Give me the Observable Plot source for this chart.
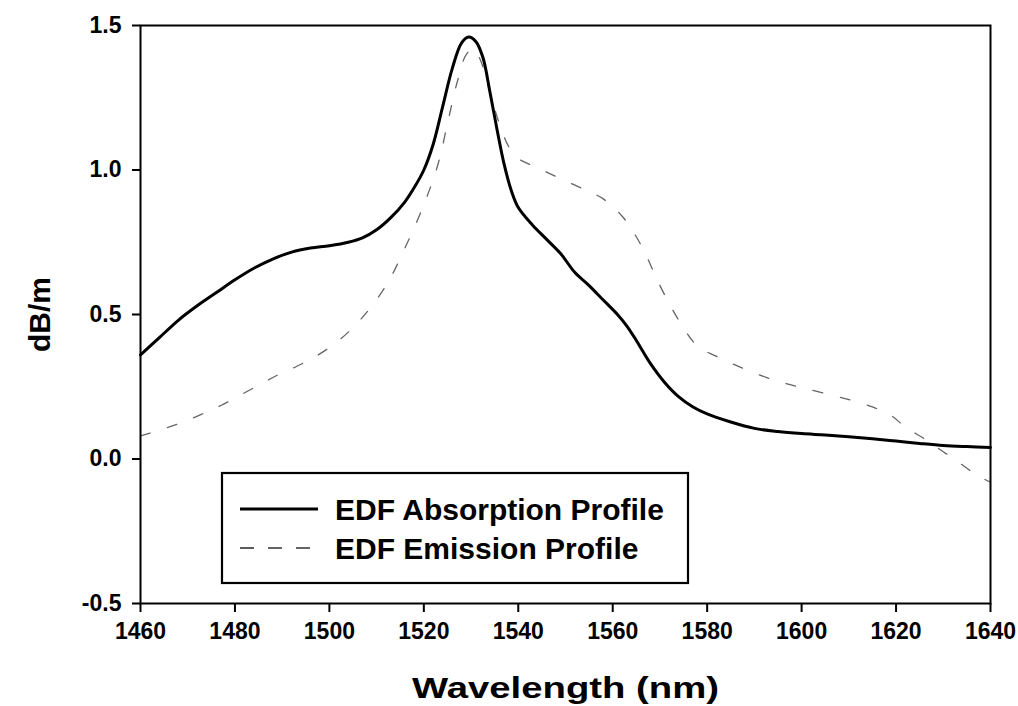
<!DOCTYPE html>
<html>
<head>
<meta charset="utf-8">
<script src="https://cdn.jsdelivr.net/npm/d3@7"></script>
<script src="https://cdn.jsdelivr.net/npm/@observablehq/plot@0.6"></script>
<style>
  html, body { margin: 0; padding: 0; background: #fff; }
</style>
</head>
<body>
<div id="chart"></div>
<script>
// ---- data ----
const absWavelength = [1460,1464,1468,1472,1476,1480,1484,1488,1492,1496,1500,1504,1507,1510,1513,1516,1518,1520,1522,1524,1526,1528,1529.5,1531,1532.5,1534,1535.5,1537,1538.5,1540,1543,1546,1549,1552,1555,1558,1561,1563,1565,1568,1571,1574,1577,1580,1585,1590,1595,1600,1605,1610,1615,1620,1625,1630,1635,1640];
const absValue      = [0.36,0.42,0.48,0.53,0.575,0.62,0.66,0.692,0.716,0.73,0.738,0.75,0.765,0.793,0.835,0.89,0.94,1.0,1.09,1.22,1.35,1.44,1.46,1.445,1.39,1.27,1.14,1.02,0.93,0.87,0.81,0.76,0.71,0.645,0.6,0.55,0.5,0.46,0.41,0.33,0.265,0.215,0.18,0.156,0.128,0.106,0.095,0.088,0.083,0.077,0.07,0.062,0.054,0.047,0.043,0.04];

const emWavelength = [1460,1465,1469,1473,1477,1481,1485,1489,1493,1497,1502,1507,1512,1516,1520,1523,1525,1527,1529,1530.5,1532,1534,1536,1538,1540,1543,1547,1551,1555,1558,1562,1566,1570,1574,1578,1582,1587,1594,1601,1609,1615,1619,1622,1626,1630,1634,1637,1640];
const emValue      = [0.08,0.105,0.128,0.155,0.185,0.22,0.255,0.29,0.32,0.354,0.41,0.49,0.6,0.73,0.88,1.02,1.16,1.3,1.4,1.42,1.38,1.27,1.16,1.08,1.04,1.015,0.985,0.955,0.925,0.9,0.84,0.74,0.6,0.48,0.39,0.355,0.318,0.274,0.243,0.21,0.18,0.15,0.11,0.07,0.025,-0.02,-0.055,-0.08];

const xTicks = [1460,1480,1500,1520,1540,1560,1580,1600,1620,1640];
const yTicks = [-0.5,0.0,0.5,1.0,1.5];
const seriesNames = ["EDF Absorption Profile","EDF Emission Profile"];
const xLabel = "Wavelength (nm)";
const yLabel = "dB/m";

// ---- build tables ----
const absorption = absWavelength.map((w,i) => ({wl: w, v: absValue[i]}));
const emission = emWavelength.map((w,i) => ({wl: w, v: emValue[i]}));

const font = "'Liberation Sans', Arial, Helvetica, sans-serif";
const xFmt = d => String(d);
const yFmt = d => d.toFixed(1);

const plot = Plot.plot({
  width: 1018,
  height: 706,
  marginLeft: 140,
  marginRight: 28,
  marginTop: 25,
  marginBottom: 103,
  style: {fontFamily: font, fontSize: "23px", background: "#fff", color: "#000", overflow: "visible"},
  x: {domain: [1460, 1640]},
  y: {domain: [-0.5, 1.5]},
  marks: [
    Plot.line(emission, {x: "wl", y: "v", stroke: "#666", strokeWidth: 1.3, strokeDasharray: "10,18", curve: "catmull-rom"}),
    Plot.line(absorption, {x: "wl", y: "v", stroke: "#000", strokeWidth: 3, curve: "catmull-rom"}),
    Plot.frame({stroke: "#000", strokeWidth: 2}),
    Plot.axisX({ticks: xTicks, tickFormat: xFmt, tickSize: 9, tickPadding: 10, fontSize: 23, fontWeight: "bold", strokeWidth: 2, label: null}),
    Plot.axisY({ticks: yTicks, tickFormat: yFmt, tickSize: 8, tickPadding: 11, fontSize: 23, fontWeight: "bold", strokeWidth: 2, label: null}),
    Plot.text([xLabel], {frameAnchor: "bottom", textAnchor: "middle", lineAnchor: "middle", dy: 85, fontSize: 29, fontWeight: "bold", text: d => d, fill: "#000"}),
    Plot.text([yLabel], {frameAnchor: "left", textAnchor: "middle", lineAnchor: "middle", dx: -100, rotate: -90, fontSize: 30, fontWeight: "bold", text: d => d, fill: "#000"})
  ]
});

document.getElementById("chart").appendChild(plot);

const svg = d3.select(plot);
// tick label sizes (match by the tick labels' own text)
const xTickTexts = new Set(xTicks.map(xFmt));
const yTickTexts = new Set(yTicks.map(yFmt));
svg.selectAll("text").each(function() {
  const t = this.textContent;
  if (xTickTexts.has(t)) this.style.fontSize = "23px";
  else if (yTickTexts.has(t)) this.style.fontSize = "23px";
});
// widen the x-axis title to the reference's stretched lettering
svg.selectAll("text").filter(function() { return this.textContent === xLabel; })
  .attr("textLength", 307).attr("lengthAdjust", "spacingAndGlyphs");

// ---- legend box (layout in pixels, inside the plot frame) ----
const lg = svg.append("g").attr("class", "legend").attr("text-anchor", "start");
lg.append("rect")
  .attr("x", 222).attr("y", 473).attr("width", 466).attr("height", 110)
  .attr("fill", "#fff").attr("stroke", "#000").attr("stroke-width", 2.2);
const rows = [
  {name: seriesNames[0], y: 509, stroke: "#000", width: 3, dash: null},
  {name: seriesNames[1], y: 548, stroke: "#333", width: 1.6, dash: "14,14"}
];
rows.forEach(r => {
  lg.append("line")
    .attr("x1", 240).attr("x2", 318).attr("y1", r.y).attr("y2", r.y)
    .attr("stroke", r.stroke).attr("stroke-width", r.width)
    .attr("stroke-dasharray", r.dash);
  lg.append("text")
    .attr("x", 335).attr("y", r.y)
    .attr("dy", "0.35em")
    .attr("text-anchor", "start")
    .attr("font-family", font)
    .attr("font-size", 30)
    .attr("font-weight", "bold")
    .attr("fill", "#000")
    .text(r.name);
});
</script>
</body>
</html>
